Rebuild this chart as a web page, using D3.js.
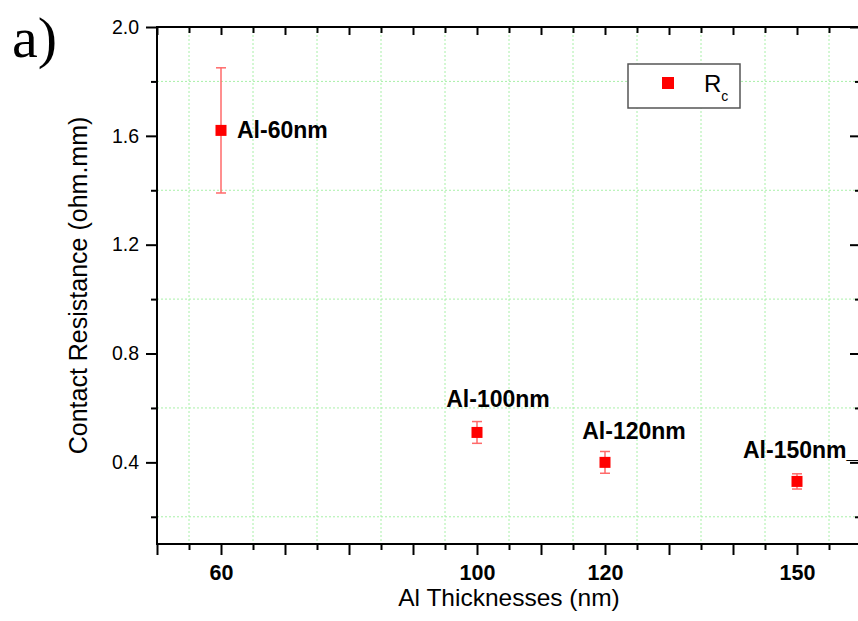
<!DOCTYPE html>
<html>
<head>
<meta charset="utf-8">
<script src="https://cdn.jsdelivr.net/npm/d3@7"></script>
<style>
  html, body { margin: 0; padding: 0; background: #fff; }
  svg { display: block; }
  text { font-family: "Liberation Sans", Arial, sans-serif; }
</style>
</head>
<body>
<svg id="chart" width="858" height="621"></svg>
<script>
// Contact resistance versus Al layer thickness
const thickness = [60, 100, 120, 150];
const resistance = [1.62, 0.51, 0.40, 0.33];
const resistanceErr = [0.23, 0.04, 0.04, 0.028];
const pointLabels = ["Al-60nm", "Al-100nm", "Al-120nm", "Al-150nm_"];
const xTickLabels = [60, 100, 120, 150];
const yTickLabels = [0.4, 0.8, 1.2, 1.6, 2.0];

// label placement relative to each point (dx, dy, anchor)
const labelOffsets = [
  { dx: 16, dy: 8, anchor: "start" },
  { dx: 21, dy: -25, anchor: "middle" },
  { dx: 29, dy: -23, anchor: "middle" },
  { dx: -54, dy: -23, anchor: "start" }
];

const svg = d3.select("#chart");
const plotL = 157, plotR = 861, plotT = 27, plotB = 544;

const x = d3.scaleLinear().domain([50, 160]).range([plotL, plotR]);
const y = d3.scaleLinear().domain([0.1, 2.0]).range([plotB, plotT]);

const xMajor = d3.range(50, 161, 10);
const xMinor = d3.range(55, 160, 10);
const yMajor = [0.4, 0.8, 1.2, 1.6, 2.0];
const yMinor = [0.2, 0.6, 1.0, 1.4, 1.8];

// dotted grid on the minor tick positions
const grid = svg.append("g").attr("stroke", "#a8f0a8").attr("stroke-width", 1)
  .attr("stroke-dasharray", "2,2");
grid.selectAll(".gx").data(xMinor).join("line").attr("class", "gx")
  .attr("x1", d => x(d)).attr("x2", d => x(d)).attr("y1", plotT).attr("y2", plotB);
grid.selectAll(".gy").data(yMinor).join("line").attr("class", "gy")
  .attr("x1", plotL).attr("x2", plotR).attr("y1", d => y(d)).attr("y2", d => y(d));

function styleAxis(g) {
  g.select(".domain").remove();
  g.selectAll(".tick line").attr("stroke", "#000").attr("stroke-width", 2);
}

// bottom axis
svg.append("g").attr("transform", `translate(0,${plotB})`)
  .call(d3.axisBottom(x).tickValues(xMajor).tickSize(11)
    .tickFormat(d => xTickLabels.includes(d) ? d : ""))
  .call(styleAxis)
  .call(g => g.selectAll("text").style("font-size", "21.5px").style("font-weight", "bold")
    .attr("fill", "#000").attr("y", 21).attr("dy", "0.71em"));
svg.append("g").attr("transform", `translate(0,${plotB})`)
  .call(d3.axisBottom(x).tickValues(xMinor).tickSize(6).tickFormat(""))
  .call(styleAxis);

// top axis, ticks inward
svg.append("g").attr("transform", `translate(0,${plotT})`)
  .call(d3.axisBottom(x).tickValues(xMajor).tickSize(8).tickFormat(""))
  .call(styleAxis);
svg.append("g").attr("transform", `translate(0,${plotT})`)
  .call(d3.axisBottom(x).tickValues(xMinor).tickSize(6).tickFormat(""))
  .call(styleAxis);

// left axis
svg.append("g").attr("transform", `translate(${plotL},0)`)
  .call(d3.axisLeft(y).tickValues(yMajor).tickSize(11)
    .tickFormat(d => yTickLabels.includes(d) ? d3.format(".1f")(d) : ""))
  .call(styleAxis)
  .call(g => g.selectAll("text").style("font-size", "19.5px").attr("fill", "#000")
    .attr("x", -18));
svg.append("g").attr("transform", `translate(${plotL},0)`)
  .call(d3.axisLeft(y).tickValues(yMinor).tickSize(6).tickFormat(""))
  .call(styleAxis);

// right axis, ticks inward
svg.append("g").attr("transform", `translate(${plotR},0)`)
  .call(d3.axisLeft(y).tickValues(yMajor).tickSize(11).tickFormat(""))
  .call(styleAxis);
svg.append("g").attr("transform", `translate(${plotR},0)`)
  .call(d3.axisLeft(y).tickValues(yMinor).tickSize(6).tickFormat(""))
  .call(styleAxis);

// frame
svg.append("rect").attr("x", plotL).attr("y", plotT)
  .attr("width", plotR - plotL).attr("height", plotB - plotT)
  .attr("fill", "none").attr("stroke", "#000").attr("stroke-width", 2);

// error bars
const data = thickness.map((t, i) => ({
  t, r: resistance[i], e: resistanceErr[i], label: pointLabels[i], off: labelOffsets[i]
}));
const eb = svg.append("g").attr("stroke", "#ff6a6a").attr("stroke-width", 1.5);
const capW = 5;
data.forEach(d => {
  const cx = x(d.t);
  eb.append("line").attr("x1", cx).attr("x2", cx).attr("y1", y(d.r + d.e)).attr("y2", y(d.r - d.e));
  eb.append("line").attr("x1", cx - capW).attr("x2", cx + capW).attr("y1", y(d.r + d.e)).attr("y2", y(d.r + d.e));
  eb.append("line").attr("x1", cx - capW).attr("x2", cx + capW).attr("y1", y(d.r - d.e)).attr("y2", y(d.r - d.e));
});

// square markers
const ms = 11;
svg.append("g").selectAll("rect").data(data).join("rect")
  .attr("x", d => x(d.t) - ms / 2).attr("y", d => y(d.r) - ms / 2)
  .attr("width", ms).attr("height", ms).attr("fill", "#ff0000");

// point labels
svg.append("g").selectAll("text").data(data).join("text")
  .attr("x", d => x(d.t) + d.off.dx).attr("y", d => y(d.r) + d.off.dy)
  .attr("text-anchor", d => d.off.anchor)
  .style("font-size", "23px").style("font-weight", "bold").attr("fill", "#000")
  .text(d => d.label);

// axis titles
svg.append("text").attr("x", (plotL + plotR) / 2).attr("y", 606)
  .attr("text-anchor", "middle").style("font-size", "24.5px").attr("fill", "#000")
  .text("Al Thicknesses (nm)");
svg.append("text")
  .attr("transform", `translate(87,${(plotT + plotB) / 2}) rotate(-90)`)
  .attr("text-anchor", "middle").style("font-size", "25px").attr("fill", "#000")
  .text("Contact Resistance (ohm.mm)");

// legend
const lg = svg.append("g");
lg.append("rect").attr("x", 628).attr("y", 64).attr("width", 112).attr("height", 44)
  .attr("fill", "#fff").attr("stroke", "#555").attr("stroke-width", 1.5);
lg.append("rect").attr("x", 668 - 6).attr("y", 83 - 6).attr("width", 12).attr("height", 12)
  .attr("fill", "#ff0000");
const lt = lg.append("text").attr("x", 704).attr("y", 92).style("font-size", "24px").attr("fill", "#000");
lt.append("tspan").text("R");
lt.append("tspan").style("font-size", "14px").attr("dy", 9).text("c");

// panel tag
svg.append("text").attr("x", 12).attr("y", 57)
  .style("font-family", "'Liberation Serif', 'DejaVu Serif', serif").style("font-size", "58px")
  .attr("fill", "#000")
  .text("a)");
</script>
</body>
</html>
